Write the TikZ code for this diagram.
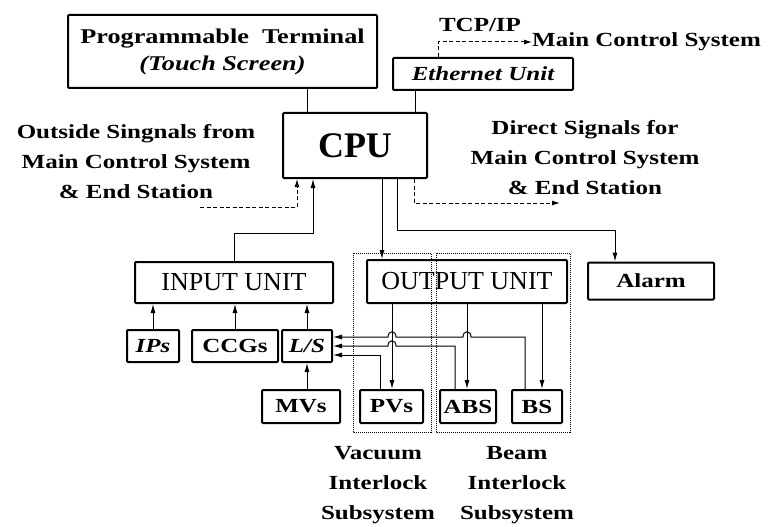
\documentclass[tikz,border=0pt]{standalone}
\usepackage{fontspec}
\setmainfont{Liberation Serif}[FakeStretch=1.25]
\newfontfamily\plainfont{Liberation Serif}
\usetikzlibrary{arrows.meta}
\begin{document}
\begin{tikzpicture}[x=1pt,y=-1pt,
  box/.style={draw, line width=2pt, rounded corners=1pt, inner sep=0pt, align=center},
  conn/.style={line width=1pt},
  arr/.style={conn, -{Latex[length=9pt,width=5pt]}},
  dline/.style={conn, dash pattern=on 4pt off 2.5pt},
  darr/.style={dline, -{Latex[length=8pt,width=5pt]}},
  dotbox/.style={line width=0.9pt, dash pattern=on 1pt off 1pt},
  lbl/.style={font=\fontsize{20}{30}\selectfont\bfseries, align=center, inner sep=0pt},
  small/.style={font=\fontsize{20}{24}\selectfont\bfseries}]
\useasboundingbox (0,0) rectangle (772,527);

% boxes
\node[box, minimum width=309pt, minimum height=73pt, font=\fontsize{21}{27}\selectfont\bfseries] (term) at (222.5,51.5)
  {Programmable\ \ Terminal\\\itshape (Touch Screen)};
\node[box, minimum width=180pt, minimum height=32pt, font=\fontsize{20}{24}\selectfont\bfseries\itshape] (eth) at (483,74) {Ethernet Unit};
\node[box, minimum width=144pt, minimum height=65pt, font=\plainfont\fontsize{36}{40}\selectfont\bfseries] (cpu) at (355,145.5) {CPU};
\node[box, minimum width=198pt, minimum height=41pt, font=\plainfont\fontsize{26}{30}\selectfont] (inp) at (234,282.5) {INPUT UNIT};
\node[box, minimum width=200pt, minimum height=43pt, font=\plainfont\fontsize{26}{30}\selectfont] (out) at (467,281.5) {OUTPUT UNIT};
\node[box, small, minimum width=126pt, minimum height=37pt] (alarm) at (651,281) {Alarm};

\node[box, small, minimum width=52pt, minimum height=32pt] (ips) at (153,346) {\itshape IPs};
\node[box, small, minimum width=86pt, minimum height=32pt] (ccgs) at (235,346) {CCGs};
\node[box, small, minimum width=50pt, minimum height=32pt] (ls) at (307,346) {\itshape L/S};
\node[box, small, minimum width=78pt, minimum height=33pt] (mvs) at (301,406.5) {MVs};
\node[box, small, minimum width=63pt, minimum height=33pt] (pvs) at (391.5,406.5) {PVs};
\node[box, small, minimum width=56pt, minimum height=33pt] (abs) at (468,406.5) {ABS};
\node[box, small, minimum width=50pt, minimum height=33pt] (bs) at (537,406.5) {BS};

% dotted subsystem frames
\draw[dotbox] (353,253) rectangle (431,432);
\draw[dotbox] (436,253) rectangle (570,432);

% texts
\node[lbl] (tcp) at (480,25) {TCP/IP};
\node[lbl, anchor=west] (mcs) at (532,42) {Main Control System};
\node[lbl] (outside) at (136,162) {Outside Singnals from\\Main Control System\\\& End Station};
\node[lbl] (direct) at (585,158) {Direct Signals for\\Main Control System\\\& End Station};
\node[lbl] (vac) at (378,485) {Vacuum\\Interlock\\Subsystem};
\node[lbl] (beam) at (517,485) {Beam\\Interlock\\Subsystem};

% helper coordinates
\coordinate (xt) at (307,0);
\coordinate (xe) at (415,0);
\coordinate (xtcp) at (438,0);
\coordinate (xo) at (297,0);
\coordinate (yo) at (0,207);
\coordinate (xi) at (313,0);
\coordinate (yi) at (0,233);
\coordinate (xc1) at (382,0);
\coordinate (xc2) at (397,0);
\coordinate (ya) at (0,230);
\coordinate (xa) at (615,0);
\coordinate (xd) at (414,0);
\coordinate (xp) at (392,0);
\coordinate (xab) at (467,0);
\coordinate (xb) at (542,0);
\coordinate (fp) at (380,0);
\coordinate (fa) at (455,0);
\coordinate (fb) at (525,0);
\coordinate (y1) at (0,337);
\coordinate (y2) at (0,346);
\coordinate (y3) at (0,355);

% top connectors
\draw[conn] (term.south -| xt) -- (cpu.north -| xt);
\draw[conn] (eth.south -| xe) -- (cpu.north -| xe);
\draw[darr] (eth.north -| xtcp) |- (mcs.west);
\draw[darr] (200,207) -- (xo |- yo) -- (cpu.south -| xo);
\draw[arr] (inp.north) |- (xi |- yi) -- (cpu.south -| xi);
\draw[darr] (cpu.south -| xd) |- (560,203);
\draw[arr] (cpu.south -| xc1) -- (out.north -| xc1);
\draw[arr] (cpu.south -| xc2) |- (xa |- ya) -- (alarm.north -| xa);

% input side
\draw[arr] (ips.north) -- (inp.south -| ips.north);
\draw[arr] (ccgs.north) -- (inp.south -| ccgs.north);
\draw[arr] (ls.north) -- (inp.south -| ls.north);
\draw[arr] (mvs.north -| ls.south) -- (ls.south);

% output side
\draw[arr] (out.south -| xp) -- (pvs.north -| xp);
\draw[arr] (out.south -| xab) -- (abs.north -| xab);
\draw[arr] (out.south -| xb) -- (bs.north -| xb);

% feedback to L/S
\draw[arr] (pvs.north -| fp) -- (fp |- y3) -- (ls.east |- y3);
\draw[arr] (abs.north -| fa) -- (fa |- y2) -- (396,346) .. controls (396,339) and (388,339) .. (388,346) -- (ls.east |- y2);
\draw[arr] (bs.north -| fb) -- (fb |- y1) -- (471,337) .. controls (471,330) and (463,330) .. (463,337)
  -- (396,337) .. controls (396,330) and (388,330) .. (388,337) -- (ls.east |- y1);
\end{tikzpicture}
\end{document}
